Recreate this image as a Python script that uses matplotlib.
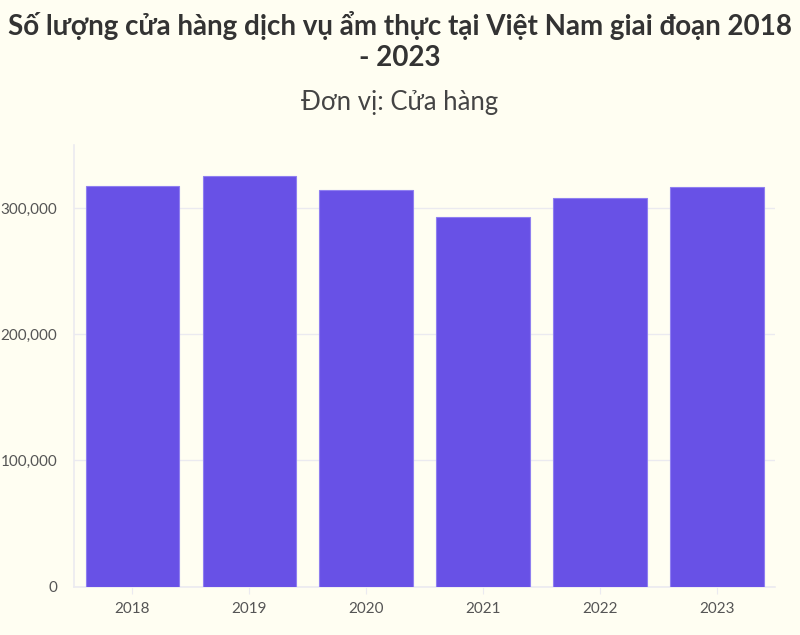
import matplotlib.pyplot as plt
from matplotlib.ticker import FuncFormatter

# Dữ liệu
nam = ["2018", "2019", "2020", "2021", "2022", "2023"]
so_cua_hang = [317200, 325200, 314300, 293100, 307700, 316900]

tieu_de_1 = "Số lượng cửa hàng dịch vụ ẩm thực tại Việt Nam giai đoạn 2018"
tieu_de_2 = "- 2023"
phu_de = "Đơn vị: Cửa hàng"

nen = "#fffef2"
mau_cot = "#6851e6"
mau_luoi = "#ebeaf0"

plt.rcParams['font.family'] = ['Lato', 'DejaVu Sans']

fig = plt.figure(figsize=(8, 6.35), dpi=100, facecolor=nen)
ax = fig.add_axes([0.0925, 0.076, 0.8765, 0.696], facecolor=nen)

x = range(len(nam))
ax.bar(x, so_cua_hang, width=0.8, color=mau_cot, edgecolor="#8f7ff0", linewidth=0.8, zorder=3)

ax.set_xlim(-0.5, len(nam) - 0.5)
ax.set_ylim(0, 350000)
ax.set_yticks([0, 100000, 200000, 300000])
ax.yaxis.set_major_formatter(FuncFormatter(lambda v, p: "{:,.0f}".format(v)))
ax.set_xticks(list(x))
ax.set_xticklabels(nam)

ax.grid(axis="y", color=mau_luoi, linewidth=1, zorder=0)
for s in ["top", "right"]:
    ax.spines[s].set_visible(False)
ax.spines["left"].set_color(mau_luoi)
ax.spines["bottom"].set_color(mau_luoi)
ax.spines["left"].set_linewidth(1.2)
ax.spines["bottom"].set_linewidth(1.2)
ax.tick_params(axis="y", length=0, pad=12, labelsize=11, labelcolor="#555555")
ax.tick_params(axis="x", length=5, color=mau_luoi, pad=6, labelsize=11, labelcolor="#555555")

fig.text(0.5, 0.96, tieu_de_1, ha="center", va="center", fontsize=20,
         fontweight="bold", color="#333333")
fig.text(0.5, 0.908, tieu_de_2, ha="center", va="center", fontsize=20,
         fontweight="bold", color="#333333")
fig.text(0.5, 0.838, phu_de, ha="center", va="center", fontsize=18.5, color="#444444")

fig.savefig("out.png", dpi=100, facecolor=nen)
